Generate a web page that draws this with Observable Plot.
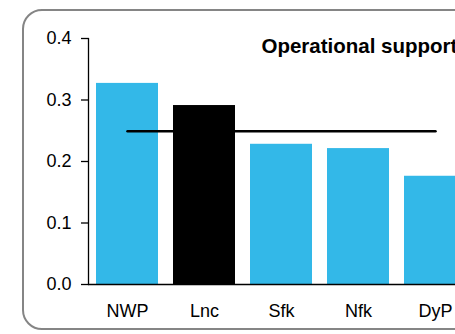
<!DOCTYPE html>
<html>
<head>
<meta charset="utf-8">
<script src="https://cdn.jsdelivr.net/npm/d3@7"></script>
<script src="https://cdn.jsdelivr.net/npm/@observablehq/plot@0.6"></script>
<style>
  html, body { margin: 0; padding: 0; background: #fff; overflow: hidden; width: 455px; height: 334px; }
  #wrap { position: relative; width: 455px; height: 334px; overflow: hidden; }
  #frame { position: absolute; left: 22px; top: 9px; width: 520px; height: 321px;
           border: 2px solid #858585; border-radius: 20px; box-sizing: border-box; }
  #chart { position: absolute; left: 0; top: 0; width: 480px; height: 334px; }
  #chart svg { max-width: none !important; width: 480px; height: 334px; }
  svg { font-family: "Liberation Sans", Arial, sans-serif; }
</style>
</head>
<body>
<div id="wrap"><div id="frame"></div><div id="chart"></div></div>
<script>
const categories = ["NWP", "Lnc", "Sfk", "Nfk", "DyP"];
const values = [0.327, 0.291, 0.228, 0.221, 0.176];
const average = 0.249;
const highlight = "Lnc";
const title = "Operational support";
const yTicks = [0, 0.1, 0.2, 0.3, 0.4];

const data = categories.map((c, i) => ({category: c, value: values[i]}));

const chart = Plot.plot({
  width: 480,
  height: 334,
  marginLeft: 88,
  marginRight: 7,
  marginTop: 38,
  marginBottom: 50,
  style: {fontFamily: "'Liberation Sans', Arial, sans-serif", fontSize: "18px", color: "#000", background: "transparent"},
  x: {domain: categories, paddingInner: 0.195, paddingOuter: 0.0975, label: null},
  y: {domain: [0, 0.4], label: null},
  marks: [
    Plot.barY(data, {x: "category", y: "value", fill: d => d.category === highlight ? "#000000" : "#33B8E8"}),
    Plot.lineY(categories, {x: d => d, y: () => average, stroke: "#000", strokeWidth: 2.5}),
    Plot.axisY({ticks: yTicks, tickFormat: d3.format(".1f"), tickSize: 7, tickPadding: 10, fontSize: 18, stroke: "#000", strokeWidth: 1.3}),
    Plot.frame({anchor: "left", stroke: "#000", strokeWidth: 1.3}),
    Plot.axisX({tickSize: 0, tickPadding: 20, fontSize: 18}),
    Plot.ruleY([0], {stroke: "#000", strokeWidth: 1.3}),
    Plot.text([title], {frameAnchor: "top-left", dx: 173, dy: 0, lineAnchor: "top", textAnchor: "start", fontWeight: "bold", fontSize: 20.5, fill: "#000"})
  ]
});
document.getElementById("chart").appendChild(chart);
</script>
</body>
</html>
